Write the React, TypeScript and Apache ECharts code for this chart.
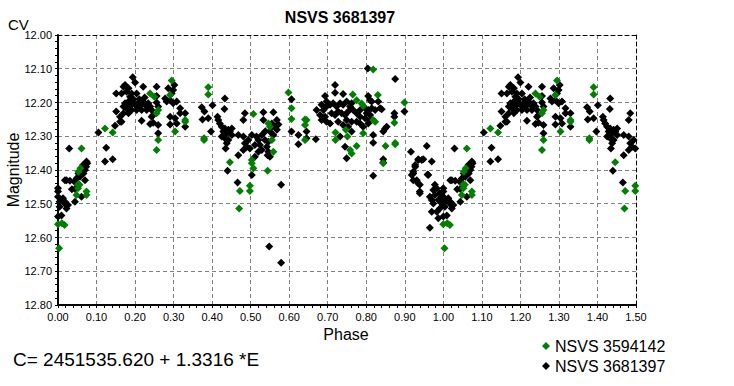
import React, { useEffect, useRef } from "react";
import * as echarts from "echarts";

const TITLE = "NSVS 3681397";
const Y_NAME = "Magnitude";
const X_NAME = "Phase";
const UNIT_LABEL = "CV";
const EPHEMERIS = "C= 2451535.620 + 1.3316 *E";
const GREEN_NAME = "NSVS 3594142";
const BLACK_NAME = "NSVS 3681397";

const X_MIN = 0;
const X_MAX = 1.5;
const X_STEP = 0.1;
const Y_MIN = 12.0;
const Y_MAX = 12.8;
const Y_STEP = 0.1;

// [phase, magnitude] for phases 0..1 (the plot repeats phase 0..0.5 at 1..1.5)
const blackPoints: number[][] = [
  [0.000, 12.454], [0.000, 12.464], [0.000, 12.479], [0.004, 12.494], [0.013, 12.484], [0.017, 12.499],
  [0.026, 12.504], [0.022, 12.514], [0.004, 12.509], [0.000, 12.538], [0.009, 12.535], [0.022, 12.430],
  [0.018, 12.430], [0.031, 12.432], [0.036, 12.457], [0.044, 12.456], [0.018, 12.494], [0.044, 12.494],
  [0.061, 12.479], [0.043, 12.435], [0.029, 12.336], [0.048, 12.425], [0.053, 12.420], [0.053, 12.410],
  [0.057, 12.420], [0.061, 12.395], [0.066, 12.410], [0.070, 12.400], [0.070, 12.430], [0.073, 12.390],
  [0.076, 12.380], [0.074, 12.375], [0.065, 12.385], [0.058, 12.405], [0.048, 12.440],
  [0.105, 12.289], [0.125, 12.334], [0.122, 12.375], [0.142, 12.368], [0.148, 12.269], [0.161, 12.257],
  [0.161, 12.242], [0.151, 12.227], [0.151, 12.173], [0.165, 12.257],
  [0.194, 12.125], [0.200, 12.141], [0.174, 12.148], [0.170, 12.153], [0.183, 12.158], [0.204, 12.173],
  [0.221, 12.153], [0.165, 12.173], [0.178, 12.168], [0.191, 12.173], [0.187, 12.183], [0.183, 12.197],
  [0.174, 12.202], [0.170, 12.212], [0.178, 12.217], [0.191, 12.202], [0.200, 12.207], [0.208, 12.202],
  [0.213, 12.212], [0.221, 12.197], [0.226, 12.207], [0.234, 12.202], [0.239, 12.212], [0.243, 12.222],
  [0.230, 12.222], [0.217, 12.222], [0.204, 12.222], [0.191, 12.222], [0.183, 12.232], [0.170, 12.232],
  [0.217, 12.254], [0.239, 12.264], [0.243, 12.242], [0.247, 12.237], [0.196, 12.190], [0.211, 12.190],
  [0.225, 12.185], [0.187, 12.210],
  [0.256, 12.153], [0.256, 12.181], [0.302, 12.148], [0.286, 12.158], [0.299, 12.163], [0.295, 12.173],
  [0.278, 12.188], [0.282, 12.197], [0.291, 12.193], [0.299, 12.202], [0.308, 12.197], [0.317, 12.217],
  [0.330, 12.232], [0.317, 12.232], [0.260, 12.212], [0.291, 12.242], [0.304, 12.247], [0.308, 12.262],
  [0.291, 12.265], [0.330, 12.272], [0.260, 12.267], [0.260, 12.291], [0.247, 12.260], [0.256, 12.200],
  [0.433, 12.188], [0.373, 12.214], [0.380, 12.227], [0.401, 12.208], [0.432, 12.219], [0.375, 12.250],
  [0.390, 12.247], [0.414, 12.242], [0.416, 12.252], [0.397, 12.286], [0.485, 12.232], [0.481, 12.252],
  [0.420, 12.262], [0.425, 12.272], [0.433, 12.277], [0.442, 12.281], [0.429, 12.286], [0.438, 12.291],
  [0.446, 12.286], [0.451, 12.296], [0.425, 12.301], [0.433, 12.306], [0.442, 12.311], [0.438, 12.321],
  [0.451, 12.277], [0.435, 12.336], [0.468, 12.296], [0.481, 12.301], [0.494, 12.311], [0.503, 12.296],
  [0.485, 12.321], [0.468, 12.356], [0.481, 12.341], [0.490, 12.331], [0.498, 12.336], [0.440, 12.402],
  [0.466, 12.437], [0.503, 12.415],
  [0.533, 12.229], [0.559, 12.229], [0.533, 12.252], [0.555, 12.262], [0.568, 12.252], [0.563, 12.272],
  [0.550, 12.286], [0.559, 12.296], [0.568, 12.281], [0.529, 12.296], [0.515, 12.301], [0.524, 12.326],
  [0.529, 12.341], [0.546, 12.316], [0.542, 12.331], [0.546, 12.346], [0.550, 12.361], [0.520, 12.346],
  [0.511, 12.361], [0.537, 12.311], [0.511, 12.326], [0.520, 12.311], [0.544, 12.356], [0.579, 12.444],
  [0.548, 12.627], [0.579, 12.675], [0.555, 12.272], [0.538, 12.285], [0.572, 12.265],
  [0.606, 12.190], [0.606, 12.286], [0.624, 12.296], [0.624, 12.324], [0.645, 12.286], [0.645, 12.306],
  [0.669, 12.309], [0.671, 12.222],
  [0.719, 12.148], [0.719, 12.171], [0.740, 12.175], [0.693, 12.181], [0.697, 12.197], [0.684, 12.207],
  [0.689, 12.222], [0.697, 12.212], [0.706, 12.207], [0.714, 12.202], [0.723, 12.212], [0.732, 12.202],
  [0.740, 12.207], [0.749, 12.197], [0.758, 12.212], [0.762, 12.202], [0.680, 12.237], [0.693, 12.242],
  [0.684, 12.252], [0.697, 12.257], [0.710, 12.232], [0.719, 12.237], [0.727, 12.227], [0.736, 12.232],
  [0.745, 12.237], [0.753, 12.227], [0.766, 12.222], [0.706, 12.262], [0.727, 12.257], [0.749, 12.252],
  [0.762, 12.257], [0.740, 12.267], [0.753, 12.272], [0.732, 12.301], [0.745, 12.331], [0.749, 12.365],
  [0.762, 12.286],
  [0.804, 12.099], [0.875, 12.130], [0.805, 12.181], [0.810, 12.193], [0.814, 12.197], [0.831, 12.197],
  [0.797, 12.217], [0.805, 12.222], [0.814, 12.217], [0.801, 12.232], [0.810, 12.237], [0.797, 12.247],
  [0.810, 12.252], [0.805, 12.262], [0.792, 12.272], [0.775, 12.257], [0.775, 12.232], [0.836, 12.217],
  [0.840, 12.220], [0.823, 12.222], [0.784, 12.242], [0.784, 12.222], [0.818, 12.296], [0.818, 12.319],
  [0.844, 12.286], [0.849, 12.277], [0.853, 12.272], [0.873, 12.232], [0.873, 12.242], [0.899, 12.227],
  [0.844, 12.368], [0.844, 12.378], [0.818, 12.417], [0.784, 12.262],
  [0.916, 12.346], [0.957, 12.329], [0.927, 12.385], [0.935, 12.370], [0.944, 12.370], [0.970, 12.375],
  [0.922, 12.410], [0.961, 12.415], [0.927, 12.390], [0.922, 12.405], [0.918, 12.415], [0.922, 12.430],
  [0.931, 12.430], [0.935, 12.440], [0.939, 12.444], [0.939, 12.464], [0.939, 12.469], [0.959, 12.413],
  [0.935, 12.368], [0.948, 12.368], [0.978, 12.444], [0.974, 12.459], [0.978, 12.474], [0.965, 12.479],
  [0.970, 12.489], [0.974, 12.499], [0.987, 12.489], [0.991, 12.514], [0.983, 12.524], [0.970, 12.524],
  [0.987, 12.543], [0.965, 12.571], [0.991, 12.469], [0.996, 12.499], [0.983, 12.455], [0.995, 12.480],
];

const greenPoints: number[][] = [
  [0.003, 12.632], [0.000, 12.561], [0.017, 12.563], [0.010, 12.558], [0.053, 12.405], [0.051, 12.444],
  [0.048, 12.474], [0.074, 12.464], [0.074, 12.474], [0.056, 12.444], [0.052, 12.454], [0.058, 12.395],
  [0.061, 12.336], [0.122, 12.277], [0.142, 12.289], [0.239, 12.173], [0.250, 12.183], [0.295, 12.135],
  [0.291, 12.178], [0.256, 12.232], [0.260, 12.222], [0.330, 12.252], [0.330, 12.257], [0.304, 12.286],
  [0.260, 12.311], [0.256, 12.341], [0.390, 12.155], [0.390, 12.176], [0.379, 12.306], [0.379, 12.311],
  [0.507, 12.234], [0.446, 12.377], [0.503, 12.370], [0.503, 12.380], [0.507, 12.395], [0.472, 12.462],
  [0.498, 12.447], [0.498, 12.462], [0.470, 12.514], [0.544, 12.402], [0.546, 12.262], [0.550, 12.272],
  [0.559, 12.346], [0.555, 12.311], [0.598, 12.170], [0.606, 12.217], [0.606, 12.249], [0.641, 12.250],
  [0.645, 12.252], [0.641, 12.267], [0.641, 12.311], [0.765, 12.176], [0.720, 12.289], [0.720, 12.311],
  [0.747, 12.281], [0.751, 12.301], [0.758, 12.341], [0.762, 12.351], [0.818, 12.102], [0.830, 12.178],
  [0.775, 12.193], [0.788, 12.203], [0.792, 12.210], [0.818, 12.252], [0.823, 12.257], [0.792, 12.291],
  [0.850, 12.329], [0.875, 12.320], [0.875, 12.324], [0.775, 12.329], [0.873, 12.260], [0.899, 12.200],
  [0.844, 12.380],
];

// phase-folded plot: show each observation at phase p and p + 1 (within the axis range)
function withRepeatedCycle(points: number[][]): number[][] {
  const out: number[][] = points.map((p) => [p[0], p[1]]);
  points.forEach((p) => {
    const shifted = Math.round((p[0] + 1) * 1000) / 1000;
    if (shifted <= X_MAX) out.push([shifted, p[1]]);
  });
  return out;
}

const FONT = "'Liberation Sans', Arial, Helvetica, sans-serif";

export default function App() {
  const ref = useRef<HTMLDivElement>(null);

  useEffect(() => {
    document.body.style.margin = "0";
    if (!ref.current) return;
    const chart = echarts.init(ref.current, undefined, { renderer: "svg" });

    const gridLine = { color: "#808080", type: [4, 3] as number[], width: 1 };

    const option: any = {
      animation: false,
      backgroundColor: "#ffffff",
      grid: { left: 58, top: 35, width: 578, height: 270, containLabel: false },
      legend: {
        orient: "vertical",
        left: 537,
        top: 333,
        itemWidth: 8,
        itemHeight: 8,
        itemGap: 4,
        selectedMode: false,
        data: [
          { name: GREEN_NAME, icon: "diamond", itemStyle: { color: "#008000", opacity: 1 } },
          { name: BLACK_NAME, icon: "diamond", itemStyle: { color: "#000000", opacity: 1 } },
        ],
        textStyle: { fontFamily: FONT, fontSize: 16, color: "#000", lineHeight: 16 },
      },
      xAxis: [
        {
          type: "value",
          min: X_MIN,
          max: X_MAX,
          interval: X_STEP,
          position: "bottom",
          axisLine: { show: true, onZero: false, lineStyle: { color: "#000", width: 2 } },
          axisTick: { show: true, length: 3, lineStyle: { color: "#000" } },
          minorTick: { show: true, splitNumber: 5, length: 3, lineStyle: { color: "#000" } },
          axisLabel: {
            show: true,
            margin: 6,
            fontFamily: FONT,
            fontSize: 11,
            color: "#000",
            showMinLabel: true,
            showMaxLabel: true,
            formatter: (v: number) => v.toFixed(2),
          },
          splitLine: { show: true, lineStyle: gridLine },
        },
        {
          type: "value",
          min: X_MIN,
          max: X_MAX,
          interval: X_STEP,
          position: "top",
          axisLine: { show: true, onZero: false, lineStyle: { color: "#000", width: 1, type: [4, 3] } },
          axisTick: { show: false },
          axisLabel: { show: false },
          splitLine: { show: false },
        },
      ],
      yAxis: [
        {
          type: "value",
          inverse: true,
          min: Y_MIN,
          max: Y_MAX,
          interval: Y_STEP,
          position: "left",
          axisLine: { show: true, onZero: false, lineStyle: { color: "#000", width: 2 } },
          axisTick: { show: true, length: 3, lineStyle: { color: "#000" } },
          minorTick: { show: true, splitNumber: 5, length: 3, lineStyle: { color: "#000" } },
          axisLabel: {
            show: true,
            margin: 6,
            fontFamily: FONT,
            fontSize: 11,
            color: "#000",
            showMinLabel: true,
            showMaxLabel: true,
            formatter: (v: number) => v.toFixed(2),
          },
          splitLine: { show: true, lineStyle: gridLine },
        },
        {
          type: "value",
          inverse: true,
          min: Y_MIN,
          max: Y_MAX,
          interval: Y_STEP,
          position: "right",
          axisLine: { show: true, onZero: false, lineStyle: { color: "#000", width: 1, type: [4, 3] } },
          axisTick: { show: false },
          axisLabel: { show: false },
          splitLine: { show: false },
        },
      ],
      series: [
        {
          name: BLACK_NAME,
          type: "scatter",
          xAxisIndex: 0,
          yAxisIndex: 0,
          symbol: "diamond",
          symbolSize: 8,
          itemStyle: { color: "#000000", opacity: 1 },
          emphasis: { disabled: true },
          data: withRepeatedCycle(blackPoints),
          z: 3,
        },
        {
          name: GREEN_NAME,
          type: "scatter",
          xAxisIndex: 0,
          yAxisIndex: 0,
          symbol: "diamond",
          symbolSize: 8,
          itemStyle: { color: "#008000", opacity: 1 },
          emphasis: { disabled: true },
          data: withRepeatedCycle(greenPoints),
          z: 4,
        },
      ],
      graphic: [
        {
          type: "text",
          x: 340,
          y: 17,
          style: { text: TITLE, fontFamily: FONT, fontSize: 16, fontWeight: "bold", fill: "#000", align: "center", verticalAlign: "middle" },
        },
        {
          type: "text",
          x: 8,
          y: 24,
          style: { text: UNIT_LABEL, fontFamily: FONT, fontSize: 15, fill: "#000", align: "left", verticalAlign: "middle" },
        },
        {
          type: "text",
          x: 13,
          y: 170,
          rotation: Math.PI / 2,
          style: { text: Y_NAME, fontFamily: FONT, fontSize: 16, fill: "#000", align: "center", verticalAlign: "middle" },
        },
        {
          type: "text",
          x: 346,
          y: 334,
          style: { text: X_NAME, fontFamily: FONT, fontSize: 16, fill: "#000", align: "center", verticalAlign: "middle" },
        },
        {
          type: "text",
          x: 13,
          y: 359,
          style: { text: EPHEMERIS, fontFamily: FONT, fontSize: 19, fill: "#000", align: "left", verticalAlign: "middle" },
        },
      ],
    };

    chart.setOption(option);
    return () => {
      chart.dispose();
    };
  }, []);

  return <div ref={ref} style={{ width: 734, height: 386 }} />;
}
